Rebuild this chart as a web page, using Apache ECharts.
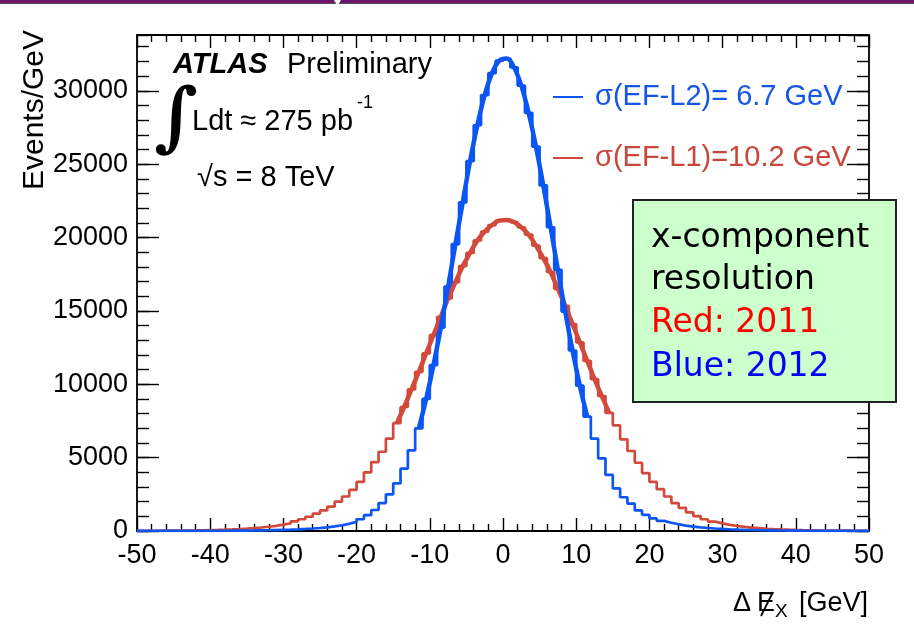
<!DOCTYPE html>
<html><head><meta charset="utf-8">
<script src="https://cdn.jsdelivr.net/npm/echarts@6/dist/echarts.min.js"></script>
<style>html,body{margin:0;padding:0;background:#fff}#c{width:914px;height:627px}</style>
</head><body><div id="c"></div>
<script>
// ---- data (bins of 1 GeV from -50 to 50) ----
const binStart = -50;
const binWidth = 1;
// 2011 (EF-L1), Events/GeV per bin, left edges -50 ... 49
const red2011 = [
  10, 12, 15, 19, 23, 28, 34, 41, 50, 62,
  75, 90, 110, 135, 165, 200, 240, 290, 350, 430,
  520, 660, 800, 970, 1180, 1400, 1660, 2000, 2350, 2800,
  3350, 4000, 4700, 5400, 6300, 7350, 8450, 9650, 10850, 12100,
  13350, 14600, 15850, 16950, 18050, 18950, 19800, 20400, 20850, 21150,
  21200, 21050, 20700, 20200, 19450, 18600, 17650, 16500, 15350, 14100,
  12850, 11600, 10350, 9200, 8050, 7200, 6250, 5450, 4650, 3950,
  3350, 2850, 2350, 1900, 1580, 1270, 1020, 800, 640, 520,
  420, 340, 280, 230, 190, 155, 130, 108, 90, 75,
  62, 51, 42, 35, 29, 24, 20, 16, 13, 11
];
// 2012 (EF-L2)
const blue2012 = [
  3, 3, 4, 5, 6, 7, 8, 9, 11, 13,
  15, 18, 22, 27, 32, 38, 46, 55, 66, 80,
  95, 115, 140, 170, 205, 250, 310, 390, 490, 620,
  800, 1080, 1430, 1900, 2500, 3250, 4250, 5500, 7000, 9000,
  11300, 13850, 16650, 19550, 22400, 25200, 27650, 29700, 31200, 32050,
  32200, 31600, 30350, 28500, 26200, 23550, 20700, 17800, 14950, 12300,
  9900, 7800, 6300, 4950, 3820, 2900, 2300, 1870, 1400, 1100,
  860, 690, 560, 460, 370, 300, 250, 205, 170, 140,
  118, 98, 82, 68, 57, 48, 40, 34, 28, 24,
  20, 17, 14, 12, 10, 8, 7, 6, 5, 4
];
const redFitRange = [-15, 15];
const blueFitRange = [-12, 12];
const legendLabels = ['\u03c3(EF-L2)= 6.7 GeV', '\u03c3(EF-L1)=10.2 GeV'];
const boxLines = ['x-component', 'resolution', 'Red: 2011', 'Blue: 2012'];

// ---- styles ----
const RED = '#d14a3b', BLUE = '#0b55f2';
const FONT = 'Liberation Sans, Arial, Helvetica, sans-serif';
const BOXFONT = '33px "Comic Sans MS", "DejaVu Sans", sans-serif';

function histPts(vals) {
  const pts = vals.map((v, i) => [binStart + i * binWidth, v]);
  pts.push([binStart + vals.length * binWidth, vals[vals.length - 1]]);
  return pts;
}
function fitPts(vals, r) {
  return vals.map((v, i) => [binStart + (i + 0.5) * binWidth, v])
             .filter(p => p[0] >= r[0] && p[0] <= r[1]);
}

const chart = echarts.init(document.getElementById('c'), null, {renderer: 'canvas'});
const axisLine = {show: true, onZero: false, lineStyle: {color: '#000', width: 1.8}};
const baseX = {
  type: 'value', min: -50, max: 50, interval: 10,
  axisLine: axisLine,
  axisTick: {show: true, inside: true, length: 13, lineStyle: {color: '#000', width: 1.4}},
  minorTick: {show: true, splitNumber: 5, length: 7, lineStyle: {color: '#000', width: 1.4}},
  splitLine: {show: false}, minorSplitLine: {show: false}
};
const yMajor = {
  type: 'value', min: 0, max: 33800, interval: 5000,
  axisLine: axisLine,
  axisTick: {show: true, inside: true, length: 22, lineStyle: {color: '#000', width: 1.4}},
  splitLine: {show: false}
};
const yMinor = {
  type: 'value', min: 0, max: 33800, interval: 1000,
  axisLine: {show: false, onZero: false}, axisLabel: {show: false},
  axisTick: {show: true, inside: true, length: 12, lineStyle: {color: '#000', width: 1.4}},
  splitLine: {show: false}
};

chart.setOption({
  animation: false,
  backgroundColor: '#fff',
  grid: {left: 137, right: 45, top: 35, bottom: 96},
  xAxis: [
    Object.assign({}, baseX, {position: 'bottom',
      axisLabel: {color: '#000', fontSize: 27, fontFamily: FONT, margin: 11}}),
    Object.assign({}, baseX, {position: 'top', axisLabel: {show: false}})
  ],
  yAxis: [
    Object.assign({}, yMajor, {position: 'left',
      axisLabel: {color: '#000', fontSize: 27, fontFamily: FONT, margin: 9, showMaxLabel: false,
                  formatter: v => String(v)}}),
    Object.assign({}, yMajor, {position: 'right', axisLabel: {show: false}}),
    Object.assign({}, yMinor, {position: 'left'}),
    Object.assign({}, yMinor, {position: 'right'})
  ],
  series: [
    {type: 'line', step: 'end', data: histPts(red2011), showSymbol: false,
     lineStyle: {color: RED, width: 2.7}, z: 2},
    {type: 'line', step: 'end', data: histPts(blue2012), showSymbol: false,
     lineStyle: {color: BLUE, width: 2.7}, z: 3},
    {type: 'line', smooth: 0.4, data: fitPts(red2011, redFitRange), showSymbol: false,
     lineStyle: {color: RED, width: 4.5}, z: 4},
    {type: 'line', smooth: 0.4, data: fitPts(blue2012, blueFitRange), showSymbol: false,
     lineStyle: {color: BLUE, width: 4.5}, z: 5}
  ],
  graphic: [
    // slide header bar
    {type: 'rect', shape: {x: 0, y: 0, width: 914, height: 3}, style: {fill: '#6b1468'}, z: 100},
    {type: 'line', shape: {x1: 0, y1: 3.5, x2: 914, y2: 3.5}, style: {stroke: '#555', lineWidth: 1}, z: 100},
    {type: 'polygon', shape: {points: [[334, 0], [341, 0], [337.5, 6]]}, style: {fill: '#fff'}, z: 101},
    // y title
    {type: 'text', x: 35, y: 110, rotation: Math.PI / 2,
     style: {text: 'Events/GeV', font: '30px ' + FONT, fill: '#000', align: 'center', verticalAlign: 'middle'}, z: 100},
    // x title: Δ E-slash_X [GeV]
    {type: 'text', x: 733, y: 604,
     style: {text: '\u0394', font: '27px ' + FONT, fill: '#000', verticalAlign: 'middle'}, z: 100},
    {type: 'text', x: 757, y: 604,
     style: {text: 'E', font: '27px ' + FONT, fill: '#000', verticalAlign: 'middle'}, z: 100},
    {type: 'line', shape: {x1: 761, y1: 616, x2: 773, y2: 592}, style: {stroke: '#000', lineWidth: 1.8}, z: 100},
    {type: 'text', x: 775, y: 612,
     style: {text: 'X', font: '19px ' + FONT, fill: '#000', verticalAlign: 'middle'}, z: 100},
    {type: 'text', x: 868, y: 604,
     style: {text: '[GeV]', font: '27px ' + FONT, fill: '#000', align: 'right', verticalAlign: 'middle'}, z: 100},
    // ATLAS label
    {type: 'text', x: 173, y: 65,
     style: {text: 'ATLAS', font: 'italic bold 29px ' + FONT, fill: '#000', verticalAlign: 'middle'}, z: 100},
    {type: 'text', x: 287, y: 65,
     style: {text: 'Preliminary', font: '29px ' + FONT, fill: '#000', verticalAlign: 'middle'}, z: 100},
    {type: 'text', x: 154, y: 122,
     style: {text: '\u222b', font: 'bold 76px DejaVu Serif, serif', fill: '#000', verticalAlign: 'middle'}, z: 100},
    {type: 'text', x: 192, y: 122,
     style: {text: 'Ldt \u2248 275 pb', font: '29px ' + FONT, fill: '#000', verticalAlign: 'middle'}, z: 100},
    {type: 'text', x: 357, y: 103,
     style: {text: '-1', font: '18px ' + FONT, fill: '#000', verticalAlign: 'middle'}, z: 100},
    {type: 'text', x: 197, y: 178,
     style: {text: '\u221as = 8 TeV', font: '29px ' + FONT, fill: '#000', verticalAlign: 'middle'}, z: 100},
    // legend
    {type: 'line', shape: {x1: 553, y1: 97, x2: 583, y2: 97}, style: {stroke: BLUE, lineWidth: 2}, z: 100},
    {type: 'text', x: 595, y: 97,
     style: {text: legendLabels[0], font: '29px ' + FONT, fill: '#1556e8', verticalAlign: 'middle'}, z: 100},
    {type: 'line', shape: {x1: 553, y1: 158, x2: 583, y2: 158}, style: {stroke: RED, lineWidth: 2}, z: 100},
    {type: 'text', x: 595, y: 158,
     style: {text: legendLabels[1], font: '29px ' + FONT, fill: '#c8473a', verticalAlign: 'middle'}, z: 100},
    // green annotation box
    {type: 'rect', shape: {x: 633, y: 200, width: 263, height: 202},
     style: {fill: '#ccffcc', stroke: '#222', lineWidth: 2}, z: 110},
    {type: 'text', x: 651, y: 238,
     style: {text: boxLines[0], font: BOXFONT, fill: '#000', verticalAlign: 'middle'}, z: 111},
    {type: 'text', x: 651, y: 280,
     style: {text: boxLines[1], font: BOXFONT, fill: '#000', verticalAlign: 'middle'}, z: 111},
    {type: 'text', x: 651, y: 323,
     style: {text: boxLines[2], font: BOXFONT, fill: '#ff0000', verticalAlign: 'middle'}, z: 111},
    {type: 'text', x: 651, y: 367,
     style: {text: boxLines[3], font: BOXFONT, fill: '#0000ff', verticalAlign: 'middle'}, z: 111}
  ]
});
</script>
</body></html>
